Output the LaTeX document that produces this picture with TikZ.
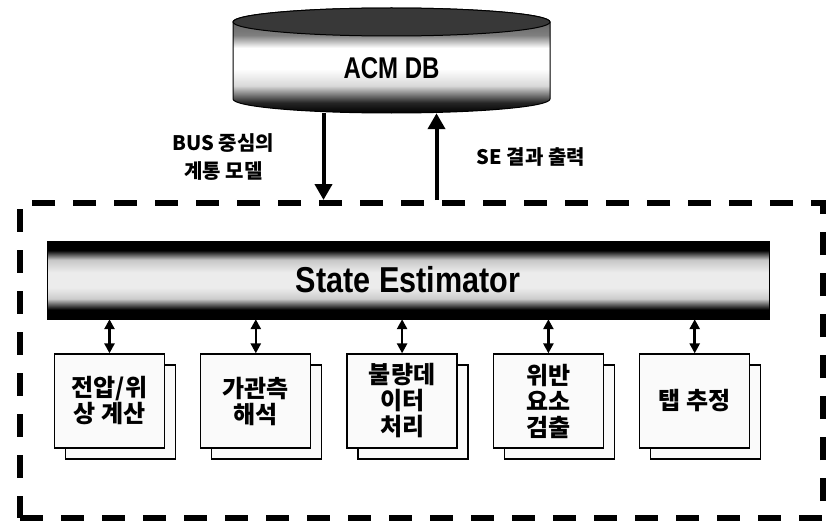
\documentclass[tikz,border=0pt]{standalone}
\usepackage{graphicx}
\usepackage{fontspec}
\setmainfont{Liberation Sans}
\newfontfamily\kr{Noto Sans CJK KR}
\usetikzlibrary{arrows.meta,positioning,shadows}

\pgfdeclareverticalshading{sebar}{100bp}{color(0bp)=(black); color(25bp)=(black); color(31bp)=(black); color(38bp)=(gray!40); color(45bp)=(gray!15); color(55bp)=(gray!15); color(63bp)=(gray!45); color(69bp)=(black); color(75bp)=(black); color(100bp)=(black)}
\pgfdeclareverticalshading{dbbody}{100bp}{color(0bp)=(black); color(25bp)=(black); color(30bp)=(black!85); color(38bp)=(gray!30); color(46bp)=(white); color(56bp)=(white); color(62bp)=(black!50); color(75bp)=(black!70); color(100bp)=(black!70)}

\begin{document}
\begin{tikzpicture}[x=1pt, y=-1pt, node distance=35pt,
  task/.style={draw, line width=1.3pt, fill=gray!4, copy shadow={shadow xshift=11pt, shadow yshift=-11pt},
    minimum width=110pt, minimum height=94pt, align=center, font=\kr\bfseries\fontsize{24}{26}\selectfont},
  flow/.style={line width=4pt, -{Triangle[width=17pt,length=16pt]}},
  link/.style={line width=2.5pt, {Triangle[width=10pt,length=10pt]}-{Triangle[width=10pt,length=10pt]}},
  note/.style={font=\kr\bfseries\fontsize{20}{28}\selectfont, align=center}]
  \useasboundingbox (0,0) rectangle (833,527);

  \node (frame) [draw, line width=6pt, dash pattern=on 23pt off 18pt, minimum width=803pt, minimum height=315pt] at (421.5,360.5) {};

  % ACM DB cylinder
  \shadedraw[shading=dbbody, draw=black, line width=1pt] (233,22) -- (233,99)
    arc[start angle=180, end angle=360, x radius=158.5pt, y radius=14pt] -- (550,22)
    arc[start angle=0, end angle=180, x radius=158.5pt, y radius=14pt] -- cycle;
  \filldraw[fill=black!78, draw=black, line width=1pt] (391.5,22) ellipse [x radius=158.5pt, y radius=14pt];
  \node (DB) [minimum width=317pt, minimum height=90pt, font=\bfseries\fontsize{30}{32}\selectfont] at (391.5,68) {\scalebox{0.8}[1]{ACM DB}};

  \coordinate (busOut) at ([xshift=-68pt]DB.south);
  \coordinate (seIn) at ([xshift=45pt]DB.south);

  \path (busOut) edge [flow] node [note, left=44pt] {BUS 중심의\\계통 모델} (busOut |- frame.north)
        (seIn |- frame.north) edge [flow] node [note, right=35pt] {SE 결과 출력} (seIn);

  \node (SE) [draw, shade, shading=sebar, minimum width=722pt, minimum height=78pt,
    font=\bfseries\fontsize{36}{38}\selectfont] at (408,280) {\scalebox{0.85}[1]{State Estimator}};

  \node[task] (volt) at (109.5,401) {전압/위\\상 계산};
  \node[task] (obs)  [right=of volt] {가관측\\해석};
  \node[task] (bad)  [right=of obs]  {불량데\\이터\\처리};
  \node[task] (viol) [right=of bad]  {위반\\요소\\검출};
  \node[task] (tap)  [right=of viol] {탭 추정};

  \path (volt.north) edge [link] (volt.north |- SE.south)
        (obs.north)  edge [link] (obs.north |- SE.south)
        (bad.north)  edge [link] (bad.north |- SE.south)
        (viol.north) edge [link] (viol.north |- SE.south)
        (tap.north)  edge [link] (tap.north |- SE.south);
\end{tikzpicture}
\end{document}
